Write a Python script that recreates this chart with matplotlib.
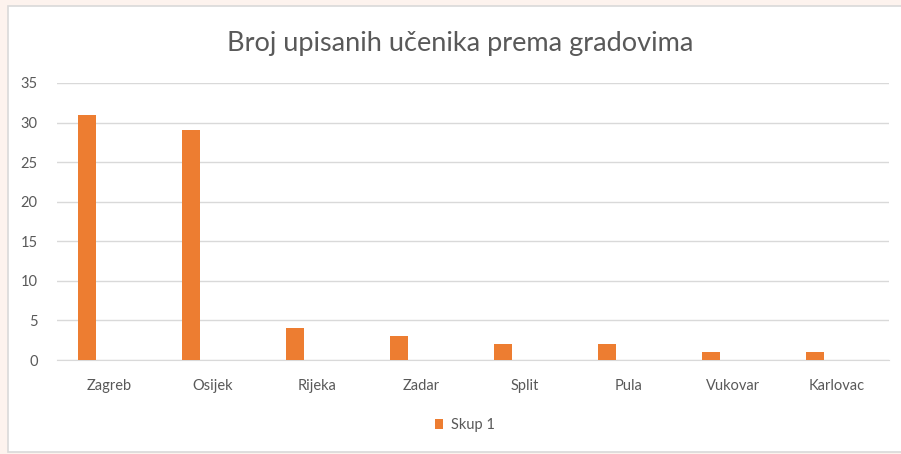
import numpy as np
import matplotlib.pyplot as plt
from matplotlib.patches import Rectangle

gradovi = ['Zagreb', 'Osijek', 'Rijeka', 'Zadar', 'Split', 'Pula', 'Vukovar', 'Karlovac']
skup1 = [31, 29, 4, 3, 2, 2, 1, 1]
naslov = 'Broj upisanih učenika prema gradovima'

narancasta = '#ED7D31'
siva = '#595959'
plt.rcParams['font.family'] = ['Lato', 'DejaVu Sans']

fig = plt.figure(figsize=(9.01, 4.54), dpi=100)
fig.patch.set_facecolor('#FDF3EE')
# bijeli okvir grafikona
fig.patches.append(Rectangle((8/901, 2/454), 1.0, 446/454, transform=fig.transFigure,
                             facecolor='white', edgecolor='#D9D9D9', lw=1.2, zorder=-1))

ax = fig.add_axes([57/901, 1-360/454, 832/901, 277/454])
ax.set_facecolor('none')
x = np.arange(len(gradovi))
ax.bar(x - 0.21, skup1, width=0.17, color=narancasta, label='Skup 1', zorder=3)

ax.set_xlim(-0.5, len(gradovi) - 0.5)
ax.set_ylim(0, 35)
ax.set_yticks(np.arange(0, 36, 5))
ax.set_xticks(x)
ax.set_xticklabels(gradovi)
ax.yaxis.grid(True, color='#D9D9D9', lw=1)
ax.set_axisbelow(True)
for s in ['top', 'right', 'left']:
    ax.spines[s].set_visible(False)
ax.spines['bottom'].set_color('#D9D9D9')
ax.tick_params(axis='both', length=0, colors=siva, labelsize=10.5)
ax.tick_params(axis='x', pad=14)
ax.tick_params(axis='y', pad=14)

fig.text(460/901, 1-43/454, naslov, ha='center', va='center', fontsize=19.5, color=siva)
leg = ax.legend(loc='center', bbox_to_anchor=(0.49, -0.235), frameon=False, fontsize=10.5,
                handlelength=0.6, handleheight=0.6, handletextpad=0.5)
for t in leg.get_texts():
    t.set_color(siva)

plt.savefig('out.png', dpi=100, facecolor=fig.get_facecolor())
